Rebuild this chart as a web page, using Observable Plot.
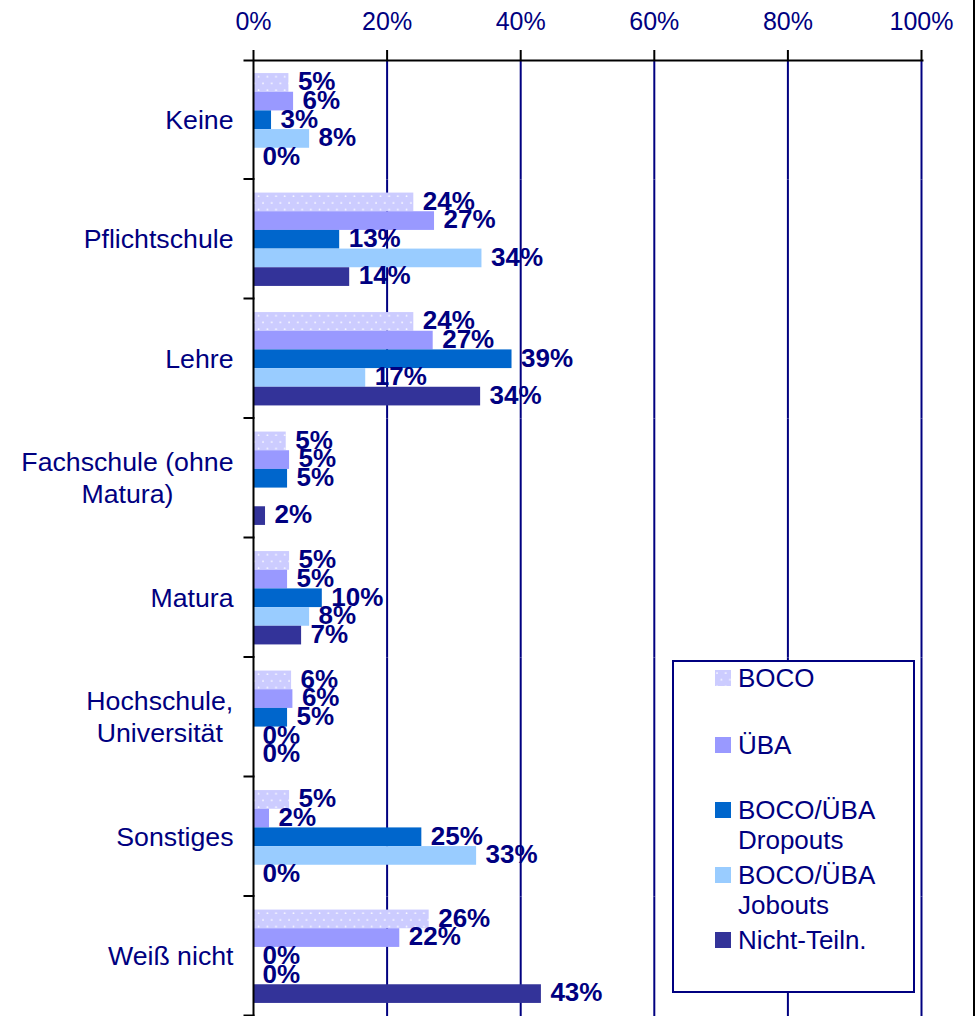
<!DOCTYPE html>
<html>
<head>
<meta charset="utf-8">
<script src="https://cdn.jsdelivr.net/npm/d3@7"></script>
<script src="https://cdn.jsdelivr.net/npm/@observablehq/plot@0.6"></script>
<style>
html, body { margin: 0; padding: 0; background: #fff; }
#wrap { position: relative; width: 978px; height: 1016px; overflow: hidden; font-family: "Liberation Sans", Arial, sans-serif; }
#wrap svg { display: block; }
.legend { position: absolute; left: 672px; top: 660px; width: 243px; height: 333px; border: 2px solid #000080; box-sizing: border-box; background: #fff; color: #000080; font-size: 26px; line-height: 30px; }
.legend .lab { position: absolute; left: 64px; white-space: pre; }
.legend .sw { position: absolute; left: 41px; width: 16px; height: 16px; }
.edge { position: absolute; left: 973px; top: 0; width: 2px; height: 1016px; background: #000; }
</style>
</head>
<body>
<div id="wrap"></div>
<script>
// ---- data ----
const categories = ["Keine", "Pflichtschule", "Lehre", "Fachschule (ohne Matura)", "Matura", "Hochschule, Universität", "Sonstiges", "Weiß nicht"];
const categoryLabels = ["Keine", "Pflichtschule", "Lehre", "Fachschule (ohne\nMatura)", "Matura", "Hochschule,\nUniversität", "Sonstiges", "Weiß nicht"];
const seriesNames = ["BOCO", "ÜBA", "BOCO/ÜBA Dropouts", "BOCO/ÜBA Jobouts", "Nicht-Teiln."];
const legendLabels = ["BOCO", "ÜBA", "BOCO/ÜBA\nDropouts", "BOCO/ÜBA\nJobouts", "Nicht-Teiln."];
const boco     = [5.3, 24.0, 24.0, 4.9, 5.4, 5.7, 5.4, 26.3];
const uba      = [6.0, 27.1, 26.9, 5.4, 5.1, 5.9, 2.4, 21.9];
const dropouts = [2.7, 12.9, 38.7, 5.1, 10.3, 5.1, 25.2, 0];
const jobouts  = [8.4, 34.2, 16.8, null, 8.4, 0, 33.4, 0];
const nicht    = [0, 14.4, 34.0, 1.8, 7.2, 0, 0, 43.1];
const xTicks = [0, 20, 40, 60, 80, 100];
const seriesColors = ["url(#bocoDots)", "#9999FF", "#0066CC", "#99CCFF", "#333399"];

const seriesValues = [boco, uba, dropouts, jobouts, nicht];
const rows = [];
categories.forEach((c, i) => {
  seriesNames.forEach((s, j) => {
    const v = seriesValues[j][i];
    if (v !== null) rows.push({cat: c, series: s, value: v});
  });
});

const navy = "#000080";
const font = "'Liberation Sans', Arial, sans-serif";

const chart = Plot.plot({
  width: 978,
  height: 1016,
  marginTop: 60,
  marginBottom: 0,
  marginLeft: 253,
  marginRight: 57,
  style: {fontFamily: font, fontSize: "26px", color: navy, background: "transparent", overflow: "visible"},
  x: {domain: [0, 100], axis: null},
  y: {domain: seriesNames, paddingInner: 0, paddingOuter: 0.7, round: false, axis: null},
  fy: {domain: categories, padding: 0, round: false, axis: null},
  color: {domain: seriesNames, range: seriesColors},
  marks: [
    Plot.gridX(xTicks.slice(1), {stroke: navy, strokeOpacity: 1, strokeWidth: 2}),
    Plot.barX(rows, {fy: "cat", y: "series", x: "value", fill: "series"}),
    Plot.ruleX([0], {stroke: "black", strokeWidth: 2}),
    Plot.frame({anchor: "bottom", insetLeft: -9, insetRight: 668, insetBottom: 1, stroke: "black", strokeWidth: 2}),
    Plot.frame({anchor: "top", facetAnchor: "top", insetLeft: -9, insetRight: -1, stroke: "black", strokeWidth: 2}),
    Plot.axisX(xTicks, {anchor: "top", label: null, tickFormat: d => d + "%", tickSize: 11, tickPadding: 20, stroke: "black", strokeWidth: 2, fill: navy, fontSize: 25}),
    Plot.text(rows, {fy: "cat", y: "series", x: "value", text: d => Math.round(d.value) + "%", textAnchor: "start", dx: 9, dy: -1, fontWeight: "bold", fontSize: 26, fill: navy}),
    Plot.text(categories, {fy: d => d, text: d => categoryLabels[categories.indexOf(d)], frameAnchor: "left", textAnchor: "end", dx: -20, dy: -2, lineHeight: 1.2, fontSize: 26.7, fill: navy})
  ]
});

// dotted pattern for BOCO
const ns = "http://www.w3.org/2000/svg";
const defs = document.createElementNS(ns, "defs");
defs.innerHTML = `<pattern id="bocoDots" patternUnits="userSpaceOnUse" width="8.7" height="13.4">
  <rect width="8.7" height="13.4" fill="#CCCCFF"/>
  <circle cx="2" cy="3" r="0.9" fill="#ffffff" fill-opacity="0.9"/>
  <circle cx="6.35" cy="9.7" r="0.9" fill="#ffffff" fill-opacity="0.9"/>
</pattern>`;
chart.insertBefore(defs, chart.firstChild);

const wrap = document.getElementById("wrap");
wrap.appendChild(chart);

// center multi-line category labels within their right-aligned block
chart.querySelectorAll("text").forEach(t => {
  const tspans = t.querySelectorAll("tspan");
  if (tspans.length > 1) {
    const w = t.getBBox().width;
    t.setAttribute("text-anchor", "middle");
    tspans.forEach(s => s.setAttribute("x", -w / 2));
  }
});

// legend
const legend = document.createElement("div");
legend.className = "legend";
const centers = [18, 85, 150, 215, 280];
seriesNames.forEach((s, i) => {
  const sw = document.createElement("div");
  sw.className = "sw";
  sw.style.top = (centers[i] - 2 - 8) + "px";
  if (i === 0) {
    sw.innerHTML = `<svg width="16" height="16" style="display:block"><rect width="16" height="16" fill="url(#bocoDots)"/></svg>`;
  } else {
    sw.style.background = seriesColors[i];
  }
  legend.appendChild(sw);
  const lab = document.createElement("div");
  lab.className = "lab";
  lab.style.top = (centers[i] - 2 - 15) + "px";
  lab.textContent = legendLabels[i];
  legend.appendChild(lab);
});
wrap.appendChild(legend);

const edge = document.createElement("div");
edge.className = "edge";
wrap.appendChild(edge);
</script>
</body>
</html>
